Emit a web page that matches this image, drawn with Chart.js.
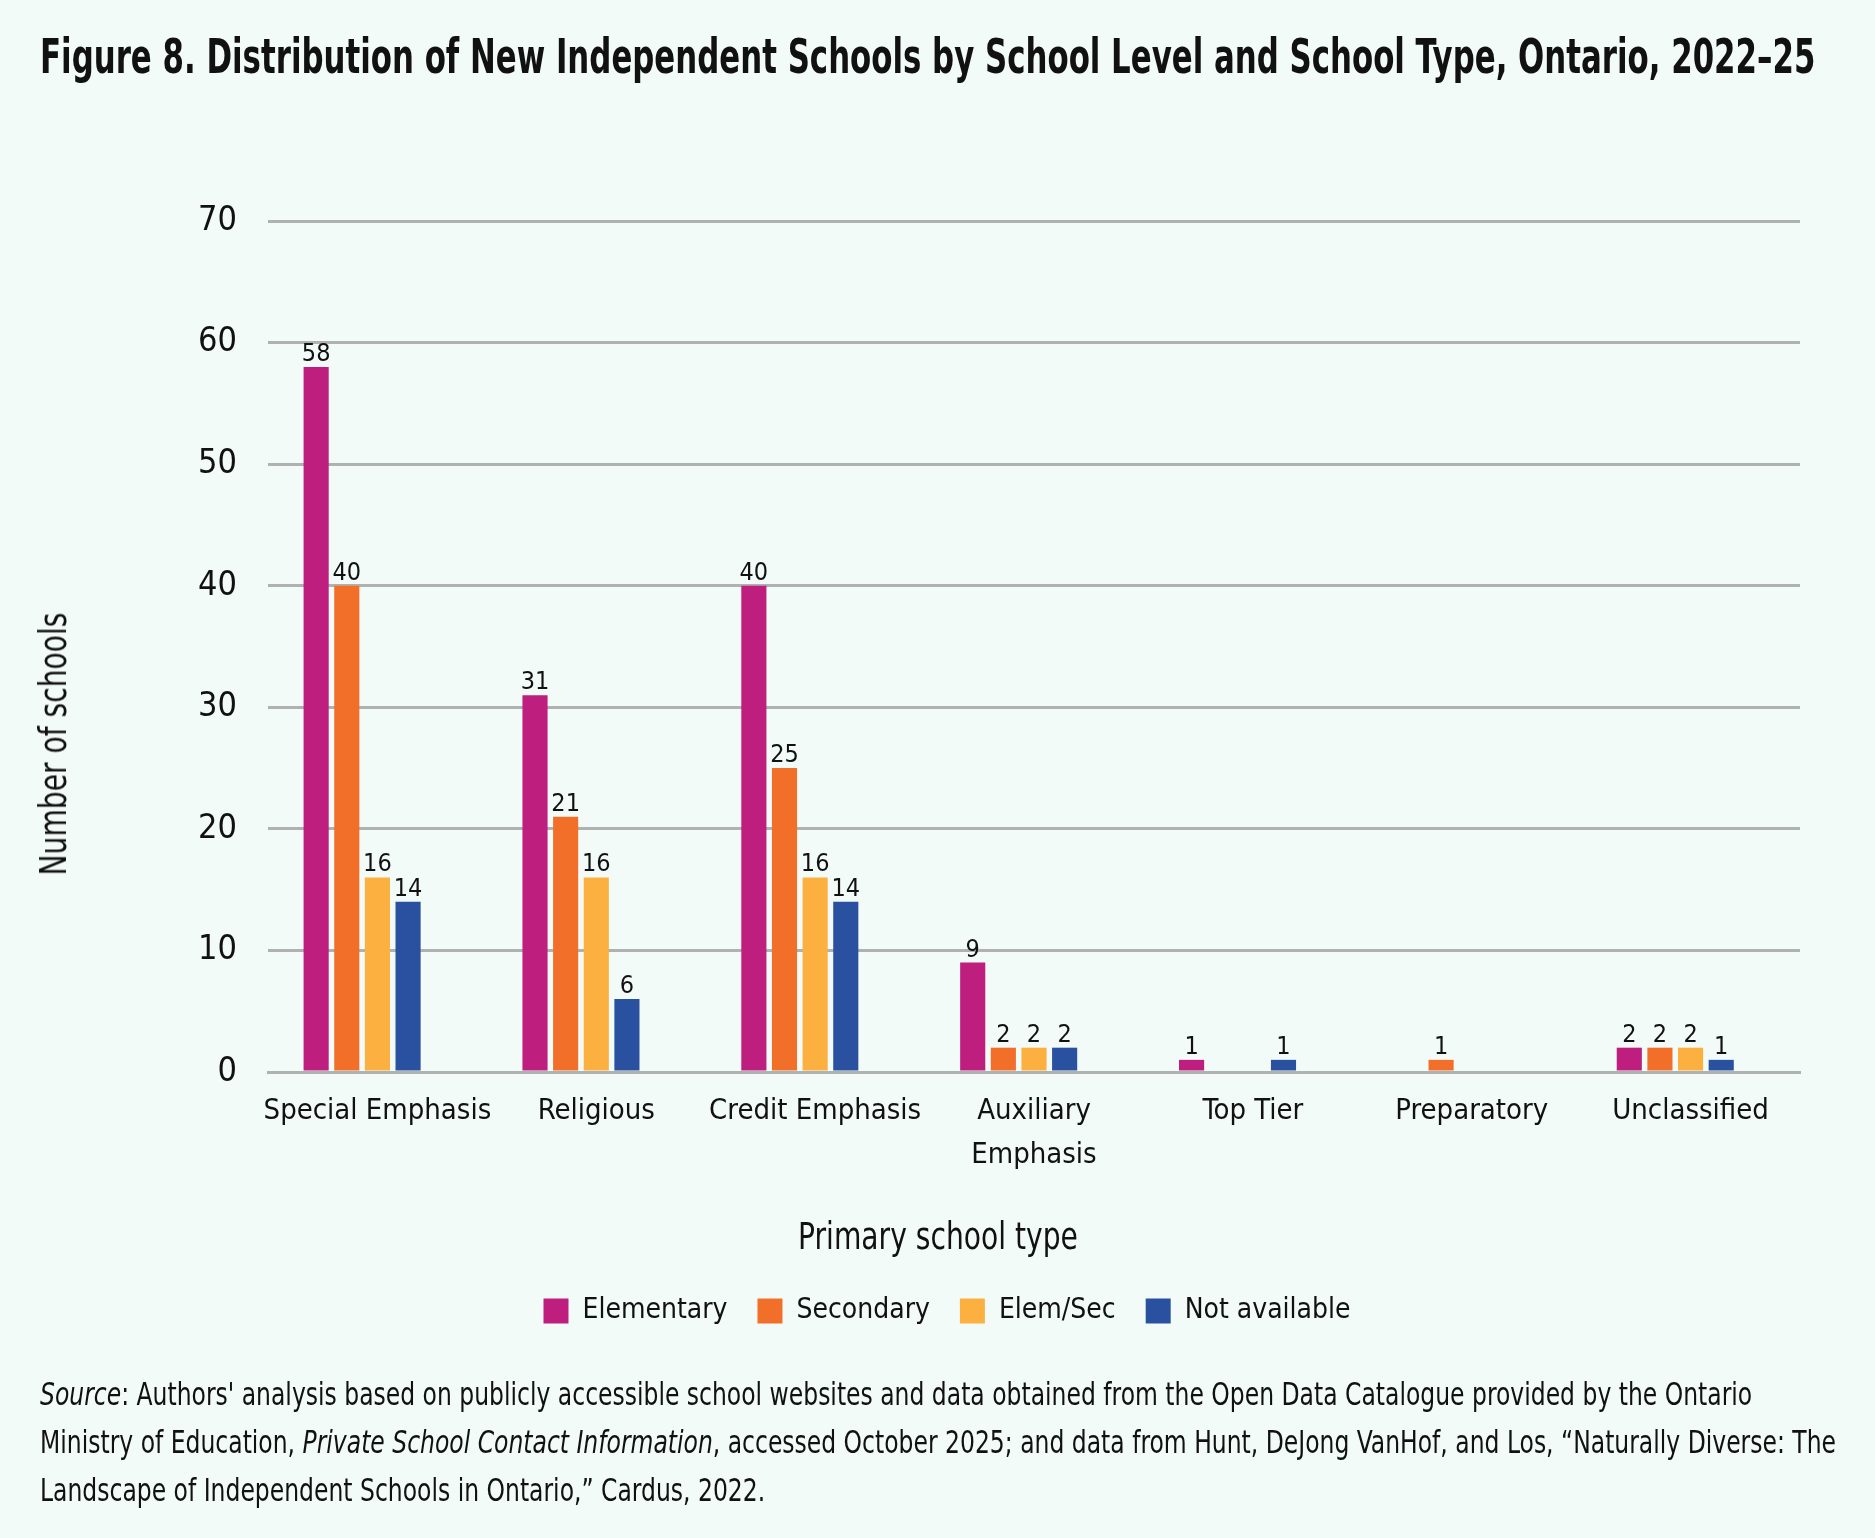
<!DOCTYPE html>
<html>
<head>
<meta charset="utf-8">
<script src="https://cdn.jsdelivr.net/npm/chart.js@4.4.1/dist/chart.umd.min.js"></script>
<style>
  body { margin: 0; background: #F3FBF9; }
  #wrap { position: relative; width: 1875px; height: 1538px; overflow: hidden; }
  #chart { position: absolute; left: 0; top: 0; }
  .txt { position: absolute; color: #111; font-family: "Liberation Sans Narrow", "DejaVu Sans Condensed", "Roboto", sans-serif; white-space: nowrap; }
  #title { left: 40px; top: 28px; font-size: 48px; font-weight: bold; transform-origin: left top; }
  #xtitle { left: 938px; top: 1215px; font-size: 37px; transform-origin: center top; }
  #ytitle { left: 54px; top: 744px; font-size: 37px; line-height: 44px; transform-origin: center center; }
  #source { left: 40px; top: 1370px; font-size: 32px; line-height: 48px; transform-origin: left top; }
</style>
</head>
<body>
<div id="wrap">
  <canvas id="chart" width="1875" height="1538"></canvas>
  <div id="title" class="txt">Figure 8. Distribution of New Independent Schools by School Level and School Type, Ontario, 2022–25</div>
  <div id="ytitle" class="txt">Number of schools</div>
  <div id="xtitle" class="txt">Primary school type</div>
  <div id="source" class="txt"><i>Source</i>: Authors' analysis based on publicly accessible school websites and data obtained from the Open Data Catalogue provided by the Ontario<br>Ministry of Education, <i>Private School Contact Information</i>, accessed October 2025; and data from Hunt, DeJong VanHof, and Los, “Naturally Diverse: The<br>Landscape of Independent Schools in Ontario,” Cardus, 2022.</div>
</div>
<script>
// valores
const categorias = ['Special Emphasis', 'Religious', 'Credit Emphasis', ['Auxiliary', 'Emphasis'], 'Top Tier', 'Preparatory', 'Unclassified'];
const elementary = [58, 31, 40, 9, 1, null, 2];
const secondary = [40, 21, 25, 2, null, 1, 2];
const elemSec = [16, 16, 16, 2, null, null, 2];
const noDisponible = [14, 6, 14, 2, 1, null, 1];
const espacio = [null, null, null, null, null, null, null]; // hueco vacio al final de cada grupo
const ticksY = [0, 10, 20, 30, 40, 50, 60, 70];

const fuente = '"Liberation Sans Narrow", "DejaVu Sans Condensed", "Roboto", sans-serif';

// ajustar textos al ancho del original
function ajustarAncho(id, ancho, antes) {
    const el = document.getElementById(id);
    const w = el.scrollWidth;
    el.style.transform = (antes || '') + ' scaleX(' + (ancho / w) + ')';
}
ajustarAncho('title', 1775);
ajustarAncho('source', 1796);
ajustarAncho('xtitle', 280, 'translateX(-50%)');
ajustarAncho('ytitle', 263, 'translate(-50%, -50%) rotate(-90deg)');

// etiquetas encima de cada barra
const etiquetasBarras = {
    id: 'etiquetasBarras',
    afterDatasetsDraw(chart) {
        const ctx = chart.ctx;
        ctx.save();
        ctx.font = '25px ' + fuente;
        ctx.fillStyle = '#111';
        ctx.textAlign = 'center';
        ctx.textBaseline = 'alphabetic';
        chart.data.datasets.forEach((ds, i) => {
            if (i > 3) return;
            chart.getDatasetMeta(i).data.forEach((bar, j) => {
                const v = ds.data[j];
                if (v === null) return;
                ctx.fillText(String(v), bar.x, bar.y - 6);
            });
        });
        ctx.restore();
    }
};

// la leyenda va centrada en la figura, no en el area del grafico
const moverLeyenda = {
    id: 'moverLeyenda',
    afterLayout(chart) {
        chart.legend.left += 42;
        chart.legend.right += 42;
    }
};

const ctx = document.getElementById('chart').getContext('2d');
new Chart(ctx, {
    type: 'bar',
    data: {
        labels: categorias,
        datasets: [
            { label: 'Elementary', data: elementary, backgroundColor: '#BE1E7D' },
            { label: 'Secondary', data: secondary, backgroundColor: '#F26F2A' },
            { label: 'Elem/Sec', data: elemSec, backgroundColor: '#FBB040' },
            { label: 'Not available', data: noDisponible, backgroundColor: '#2A50A0' },
            { label: '', data: espacio, backgroundColor: 'rgba(0,0,0,0)' }
        ]
    },
    options: {
        responsive: false,
        animation: false,
        devicePixelRatio: 1,
        datasets: {
            bar: { categoryPercentage: 0.70, barPercentage: 0.82, borderWidth: 0 }
        },
        layout: { padding: { top: 221, left: 10, right: 75, bottom: 203 } },
        scales: {
            x: {
                grid: { display: false, drawTicks: false },
                border: { display: true, color: '#B0B2B1', width: 3 },
                ticks: {
                    color: '#111',
                    padding: 17,
                    maxRotation: 0,
                    autoSkip: false,
                    font: { family: fuente, size: 29, lineHeight: 1.52 }
                },
                afterFit(scale) { scale.height = 195; }
            },
            y: {
                min: 0,
                max: 70,
                afterBuildTicks(scale) { scale.ticks = ticksY.map(v => ({ value: v })); },
                grid: { color: '#B0B2B1', lineWidth: 3, drawTicks: false },
                border: { display: false },
                ticks: {
                    color: '#111',
                    padding: 31,
                    font: { family: fuente, size: 34 }
                },
                afterFit(scale) { scale.width = 258; }
            }
        },
        plugins: {
            tooltip: { enabled: false },
            legend: {
                position: 'bottom',
                labels: {
                    filter: item => item.datasetIndex < 4,
                    boxWidth: 25,
                    boxHeight: 25,
                    padding: 30,
                    color: '#111',
                    font: { family: fuente, size: 28 }
                }
            }
        }
    },
    plugins: [etiquetasBarras, moverLeyenda]
});
</script>
</body>
</html>
